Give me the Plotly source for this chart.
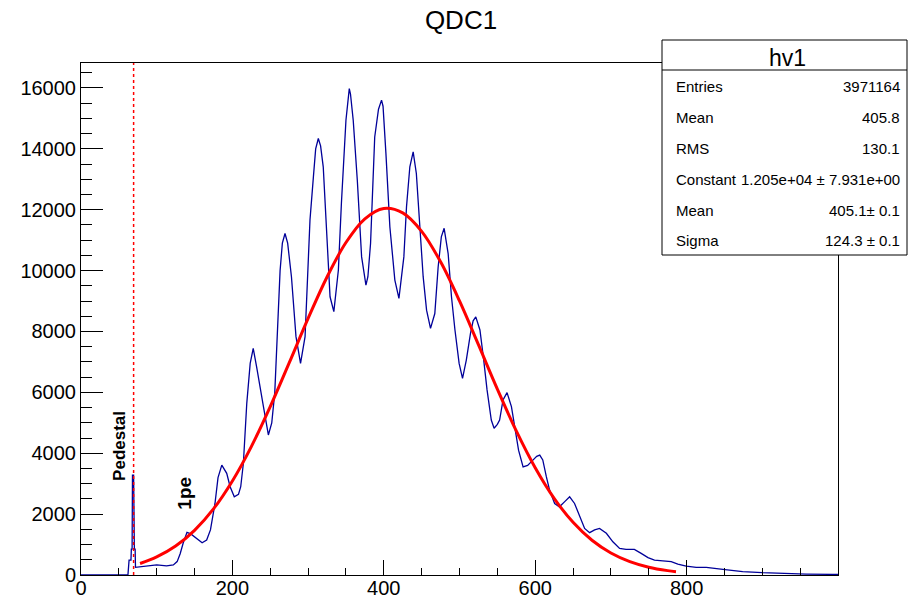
import plotly.graph_objects as go

# ---- data ----
hist_x = [0, 62, 63.5, 66, 66.5, 67.5, 68, 69.5, 70.5, 71.5, 72, 80, 90, 100, 113, 122, 127, 131, 135, 140,
          145, 152, 160, 166, 171, 177, 181, 186, 192.5, 197, 202.5, 208, 211, 214.5, 219, 223.5, 227.5,
          232, 236, 241, 247.5, 252, 256, 260, 263, 266, 269.5, 273, 278, 284, 290, 296, 299, 302.5, 307,
          310, 313.5, 316.5, 320, 324.5, 329, 334, 337, 340, 344, 350, 354.4, 356, 359.6, 365, 370.7,
          376.4, 379, 382.5, 388, 393, 397, 399, 402.8, 408, 414.6, 420, 426.5, 430, 434.4, 438.8, 443,
          447.6, 452, 456.5, 461.7, 467.4, 471.8, 476, 479.7, 485, 489.4, 494, 499.5, 504, 509, 514.5,
          518, 521.5, 527, 532, 536.4, 542, 545.7, 550, 553, 557.5, 562.8, 568.6, 573, 578, 584, 590,
          596, 602, 606, 610, 614.7, 619, 625.7, 632, 639, 645.5, 652, 658.7, 665.3, 671.9, 678.5, 685,
          694, 702.6, 711.5, 720, 731, 740, 749, 757.6, 768.6, 779.7, 788.4, 799.5, 812.7, 826, 848,
          874, 900, 931, 958, 993, 1000]
hist_y = [0, 0, 490, 490, 850, 850, 3280, 3280, 850, 850, 250, 270, 300, 330, 300, 330, 440, 700, 1050, 1400,
          1350, 1200, 1060, 1150, 1480, 2350, 3200, 3610, 3340, 2900, 2570, 2650, 2900, 3670, 5640, 6950, 7445,
          6840, 6200, 5530, 4600, 5000, 6000, 8200, 10000, 10900, 11220, 10900, 9800, 7830, 6950, 7830, 9500, 11660, 13080,
          14000, 14340, 14100, 13410, 11110, 9140, 8650, 9300, 10020, 12210, 14940, 15980, 15800, 14940, 12970, 10450,
          9520, 9800, 10890, 14390, 15300, 15600, 15400, 13850, 11440, 9690, 9090, 10450, 12100, 13410, 13900, 13190,
          11550, 9800, 8700, 8100, 8590, 10120, 11110, 11390, 10560, 9140, 8050, 6950, 6460, 7060, 7940,
          8350, 8480, 8050, 7060, 6080, 5090, 4820, 4950, 5090, 5750, 5990, 5530, 4870, 4100, 3550, 3600,
          3750, 3900, 3940, 3780, 3230, 2790, 2350, 2240, 2410, 2570, 2350, 1910, 1530, 1390, 1480, 1530,
          1370, 1090, 875, 840, 840, 710, 570, 490, 470, 440, 360, 295, 250, 250, 185,
          110, 75, 40, 30, 20, 20]

fit_x = [78, 100, 125, 150, 175, 200, 225, 250, 275, 300, 325, 350, 375, 400, 425, 450, 475, 500,
         525, 550, 575, 600, 625, 650, 675, 700, 725, 750, 775, 786]
fit_y = [378, 593, 952, 1467, 2171, 3090, 4219, 5532, 6967, 8428, 9791, 10922, 11702, 12040, 11897,
         11290, 10288, 9004, 7567, 6108, 4735, 3525, 2520, 1730, 1141, 723, 439, 257, 144, 110]

pedestal_x = 69.5
stat_labels = ["Entries", "Mean", "RMS", "Constant", "Mean", "Sigma"]
stat_values = ["3971164", "405.8", "130.1", "1.205e+04 \u00b1 7.931e+00", "405.1\u00b1 0.1", "124.3 \u00b1 0.1"]

# ---- layout geometry (pixels) ----
W, H = 909, 598
L, R, T, B = 81, 838, 63, 575
PW, PH = R - L, B - T

def fx(px):
    return (px - L) / PW

def fy(py):
    return (B - py) / PH

FONT = "Liberation Sans, Arial, Helvetica, sans-serif"

fig = go.Figure()
fig.add_trace(go.Scatter(x=hist_x, y=hist_y, mode="lines",
                         line=dict(color="rgb(0,0,153)", width=1.3), showlegend=False, hoverinfo="skip"))
fig.add_trace(go.Scatter(x=fit_x, y=fit_y, mode="lines", line_shape="spline",
                         line=dict(color="rgb(255,0,0)", width=3), showlegend=False, hoverinfo="skip"))

shapes = [
    dict(type="line", xref="x", yref="paper", x0=pedestal_x, x1=pedestal_x, y0=0, y1=1,
         line=dict(color="rgb(255,0,0)", width=1.5, dash="dot")),
    dict(type="rect", xref="paper", yref="paper", x0=fx(662), x1=fx(907), y0=fy(255), y1=fy(40),
         line=dict(color="black", width=1), fillcolor="white", layer="above"),
    dict(type="line", xref="paper", yref="paper", x0=fx(662), x1=fx(907), y0=fy(70), y1=fy(70),
         line=dict(color="black", width=1), layer="above"),
]

annotations = [
    dict(text="hv1", xref="paper", yref="paper", x=fx(787), y=fy(58), showarrow=False,
         font=dict(family=FONT, size=23, color="black"), xanchor="center", yanchor="middle"),
    dict(text="<b>Pedestal</b>", xref="x", yref="y", x=50, y=4236, showarrow=False, textangle=-90,
         font=dict(family=FONT, size=17, color="black"), xanchor="center", yanchor="middle"),
    dict(text="<b>1pe</b>", xref="x", yref="y", x=135.6, y=2693, showarrow=False, textangle=-90,
         font=dict(family=FONT, size=19, color="black"), xanchor="center", yanchor="middle"),
]
row_y = [86, 117, 148, 179, 210, 240]
for lab, val, py in zip(stat_labels, stat_values, row_y):
    annotations.append(dict(text=lab, xref="paper", yref="paper", x=fx(674), y=fy(py), showarrow=False,
                            xanchor="left", yanchor="middle", font=dict(family=FONT, size=15, color="black")))
    annotations.append(dict(text=val, xref="paper", yref="paper", x=fx(902), y=fy(py), showarrow=False,
                            xanchor="right", yanchor="middle", font=dict(family=FONT, size=15, color="black")))

fig.update_layout(
    width=W, height=H,
    margin=dict(l=L, r=W - R, t=T, b=H - B, pad=0, autoexpand=False),
    paper_bgcolor="white", plot_bgcolor="white",
    title=dict(text="QDC1", x=461 / W, xanchor="center", y=1 - 20 / H, yanchor="middle",
               font=dict(family=FONT, size=26, color="black")),
    font=dict(family=FONT, size=20, color="black"),
    shapes=shapes, annotations=annotations,
    xaxis=dict(range=[0, 1000], automargin=False, showgrid=False, zeroline=False, showline=True,
               linecolor="black", linewidth=1, mirror=True, ticks="inside", ticklen=15, tickwidth=1,
               tickcolor="black", tickvals=[0, 200, 400, 600, 800], ticklabelstandoff=-5,
               minor=dict(ticks="inside", ticklen=7, dtick=50, tick0=0, tickcolor="black", showgrid=False),
               tickfont=dict(family=FONT, size=20, color="black")),
    yaxis=dict(range=[0, 16820], automargin=False, showgrid=False, zeroline=False, showline=True,
               linecolor="black", linewidth=1, mirror=True, ticks="inside", ticklen=22, tickwidth=1,
               tickcolor="black", tick0=0, dtick=2000, tickformat="d",
               minor=dict(ticks="inside", ticklen=11, dtick=500, tick0=0, tickcolor="black", showgrid=False),
               tickfont=dict(family=FONT, size=20, color="black")),
)

fig.write_html("out.html", config={"displayModeBar": False},
               post_script="document.body.style.margin='0';document.body.style.overflow='hidden';")
